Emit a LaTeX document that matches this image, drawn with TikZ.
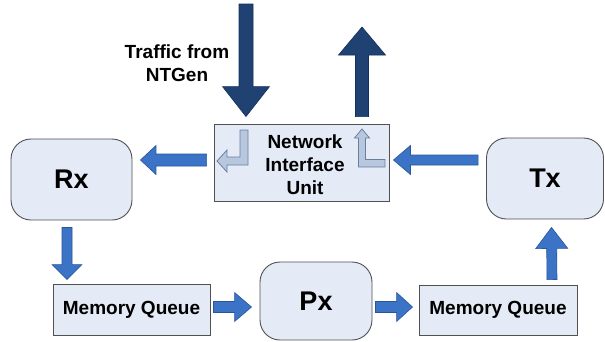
\documentclass[tikz,border=0pt]{standalone}
\usepackage{fontspec}
\setmainfont{Liberation Sans}
\usetikzlibrary{calc}
\definecolor{boxfill}{HTML}{E4EAF6}
\definecolor{boxline}{HTML}{505050}
\definecolor{bluefill}{HTML}{3B74C6}
\definecolor{blueline}{HTML}{2A5597}
\definecolor{darkfill}{HTML}{1F4272}
\definecolor{darkline}{HTML}{15305A}
\definecolor{iconfill}{HTML}{B7C7DE}
\definecolor{iconline}{HTML}{6A7FA0}
\newcommand\fatarr[6]{%
  \filldraw[#1] ($(#2)!#4!90:(#3)$) -- ($(#3)!#6!(#2)!#4!90:(#3)$)
    -- ($(#3)!#6!(#2)!#5!90:(#3)$) -- (#3)
    -- ($(#3)!#6!(#2)!#5!-90:(#3)$) -- ($(#3)!#6!(#2)!#4!-90:(#3)$)
    -- ($(#2)!#4!-90:(#3)$) -- cycle;}
\begin{document}
\begin{tikzpicture}[x=1pt,y=-1pt,
  roundbox/.style={draw=boxline,fill=boxfill,line width=0.9pt,rounded corners=20pt,
    font=\bfseries\fontsize{27}{30}\selectfont,inner sep=0pt},
  sqbox/.style={draw=boxline,fill=boxfill,line width=0.9pt,
    font=\bfseries\fontsize{19}{23}\selectfont,inner sep=0pt},
  bluearr/.style={fill=bluefill,draw=blueline,line width=0.6pt,line join=miter},
  darkarr/.style={fill=darkfill,draw=darkline,line width=0.6pt,line join=miter},
  icon/.style={fill=iconfill,draw=iconline,line width=0.8pt,line join=miter}]
\useasboundingbox (0,0) rectangle (605,341);
\fill[white] (0,0) rectangle (605,341);
% boxes
\node[roundbox,minimum width=121pt,minimum height=81pt] (rx) at (71.5,179.5) {Rx};
\node[roundbox,minimum width=117pt,minimum height=81pt] (tx) at (545,178.5) {Tx};
\node[roundbox,minimum width=112pt,minimum height=78pt] (px) at (316,301) {Px};
\node[sqbox,minimum width=157pt,minimum height=51pt] (mq1) at (131.5,309.5) {Memory Queue};
\node[sqbox,minimum width=158pt,minimum height=50pt] (mq2) at (498,310) {Memory Queue};
\node[sqbox,minimum width=175pt,minimum height=77pt] (niu) at (301.5,162.5) {};
\node[font=\bfseries\fontsize{19}{23}\selectfont,align=center,inner sep=0pt]
  (niut) at (305,165) {Network\\Interface\\Unit};
\node[font=\bfseries\fontsize{19}{23}\selectfont,align=center,inner sep=0pt]
  (traffic) at (177,63.5) {Traffic from\\NTGen};
% icons inside NIU
\filldraw[icon] (240,130) -- (248,130) -- (248,165) -- (227,165) -- (227,172)
  -- (217,161) -- (227,150) -- (227,157) -- (240,157) -- cycle;
\filldraw[icon] (362,129) -- (369.5,138) -- (365.5,138) -- (365.5,159.5) -- (385,159.5)
  -- (385,167) -- (358.5,167) -- (358.5,138) -- (354.5,138) -- cycle;
% connector end points
\coordinate (a1s) at ($(niu.west)+(-7,-2.5)$);
\coordinate (a1e) at ($(rx.east)+(8,-19.5)$);
\coordinate (a2s) at ($(tx.west)+(-8,-18.5)$);
\coordinate (a2e) at ($(niu.east)+(4,-2.5)$);
\coordinate (a3s) at ($(rx.south)+(-4.5,7)$);
\coordinate (a3e) at ($(mq1.north)+(-64.5,-4)$);
\coordinate (a4s) at ($(mq1.east)+(3,-2.5)$);
\coordinate (a4e) at ($(px.west)+(-8,6)$);
\coordinate (a5s) at ($(px.east)+(3,6)$);
\coordinate (a5e) at ($(mq2.west)+(-6,-3)$);
\coordinate (a6s) at ($(mq2.north)+(54,-5)$);
\coordinate (a6e) at ($(tx.south)+(6.5,8)$);
\coordinate (in1) at (246,4);
\coordinate (a7e) at ($(niu.north)+(-55.5,-7)$);
\coordinate (a8s) at ($(niu.north)+(60.5,-7)$);
\coordinate (out1) at (362,27);
% connectors
\fatarr{bluearr}{a1s}{a1e}{6pt}{14.5pt}{15.5pt}
\fatarr{bluearr}{a2s}{a2e}{5pt}{14.5pt}{17pt}
\fatarr{bluearr}{a3s}{a3e}{5pt}{15pt}{15pt}
\fatarr{bluearr}{a4s}{a4e}{5.5pt}{14.5pt}{17pt}
\fatarr{bluearr}{a5s}{a5e}{5.5pt}{14.5pt}{16pt}
\fatarr{bluearr}{a6s}{a6e}{5pt}{16pt}{21pt}
\fatarr{darkarr}{in1}{a7e}{7pt}{23.5pt}{30pt}
\fatarr{darkarr}{a8s}{out1}{6.5pt}{23.5pt}{28pt}
\end{tikzpicture}
\end{document}
